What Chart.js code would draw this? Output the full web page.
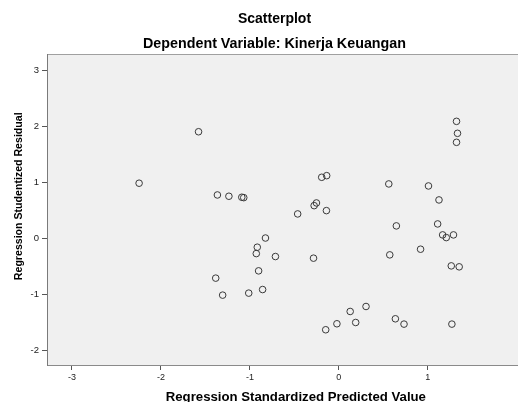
<!DOCTYPE html>
<html>
<head>
<meta charset="utf-8">
<script src="https://cdn.jsdelivr.net/npm/chart.js@4"></script>
<style>
  html, body { margin: 0; padding: 0; background: #ffffff; overflow: hidden; width: 518px; height: 402px; }
  #wrap { width: 549px; height: 402px; }
</style>
</head>
<body>
<div id="wrap"><canvas id="c" width="549" height="402"></canvas></div>
<script>
// Regression Standardized Predicted Value (x)
const predicted = [
  -2.245, -1.577, -1.365, -1.236, -1.091, -1.069, -0.825, -0.917, -0.928, -0.713,
  -0.902, -1.384, -1.306, -1.013, -0.857, -0.193, -0.137, 0.561, -0.252, -0.278,
  -0.140, -0.463, 0.646, -0.285, 0.572, 1.322, 1.333, 1.322, 1.007, 1.125,
  1.110, 1.166, 1.207, 1.288, 0.918, 1.263, 1.352, 1.270, -0.148, -0.022,
  0.127, 0.189, 0.305, 0.635, 0.732
];
// Regression Studentized Residual (y)
const residual = [
  0.990, 1.910, 0.780, 0.757, 0.739, 0.732, 0.010, -0.154, -0.268, -0.321,
  -0.577, -0.707, -1.011, -0.975, -0.911, 1.096, 1.125, 0.977, 0.637, 0.589,
  0.500, 0.441, 0.227, -0.350, -0.291, 2.096, 1.882, 1.721, 0.941, 0.691,
  0.262, 0.066, 0.018, 0.066, -0.190, -0.488, -0.505, -1.529, -1.630, -1.523,
  -1.303, -1.500, -1.214, -1.434, -1.529
];
const xTicks = [-3, -2, -1, 0, 1];
const yTicks = [-2, -1, 0, 1, 2, 3];
const chartTitle = 'Scatterplot';
const chartSubtitle = 'Dependent Variable: Kinerja Keuangan';
const xTitle = 'Regression Standardized Predicted Value';
const yTitle = 'Regression Studentized Residual';

const points = predicted.map((x, i) => ({ x: x, y: residual[i] }));

const plotBg = {
  id: 'plotBg',
  beforeDraw(chart) {
    const { ctx, chartArea: a } = chart;
    ctx.save();
    ctx.fillStyle = '#f0f0f0';
    ctx.fillRect(a.left, a.top, a.right - a.left, a.bottom - a.top);
    ctx.strokeStyle = '#a0a0a0';
    ctx.lineWidth = 1;
    ctx.beginPath();
    ctx.moveTo(a.left, a.top + 0.5);
    ctx.lineTo(a.right, a.top + 0.5);
    ctx.stroke();
    ctx.restore();
  }
};

new Chart(document.getElementById('c'), {
  type: 'scatter',
  data: {
    datasets: [{
      data: points,
      pointStyle: 'circle',
      pointRadius: 3.3,
      pointHoverRadius: 3.3,
      pointBorderWidth: 1,
      borderColor: '#3a3a3a',
      backgroundColor: 'rgba(0,0,0,0)'
    }]
  },
  plugins: [plotBg],
  options: {
    responsive: false,
    animation: false,
    devicePixelRatio: 1,
    layout: { padding: 0 },
    plugins: {
      legend: { display: false },
      tooltip: { enabled: false },
      title: {
        display: true,
        text: chartTitle,
        color: '#000',
        font: { family: 'Liberation Sans, Arial, sans-serif', size: 14, weight: 'bold', lineHeight: '14px' },
        padding: { top: 12, bottom: 0 }
      },
      subtitle: {
        display: true,
        text: chartSubtitle,
        color: '#000',
        font: { family: 'Liberation Sans, Arial, sans-serif', size: 14.3, weight: 'bold', lineHeight: '14px' },
        padding: { top: 11, bottom: 3 }
      }
    },
    scales: {
      x: {
        type: 'linear',
        min: -3.28,
        max: 2.313,
        afterBuildTicks(scale) { scale.ticks = xTicks.map(v => ({ value: v })); },
        afterFit(scale) { scale.height = 37; },
        ticks: {
          color: '#222',
          font: { family: 'Liberation Sans, Arial, sans-serif', size: 9 },
          padding: 2,
          maxRotation: 0,
          callback: v => String(v)
        },
        grid: { drawOnChartArea: false, drawTicks: true, tickLength: 5, color: '#555' },
        border: { display: true, color: '#8a8a8a', width: 1 },
        title: {
          display: true,
          text: xTitle,
          color: '#000',
          font: { family: 'Liberation Sans, Arial, sans-serif', size: 13.2, weight: 'bold', lineHeight: '10px' },
          padding: { top: 0, bottom: 0 }
        }
      },
      y: {
        type: 'linear',
        min: -2.26,
        max: 3.30,
        afterBuildTicks(scale) { scale.ticks = yTicks.map(v => ({ value: v })); },
        afterFit(scale) { scale.width = 47; },
        ticks: {
          color: '#222',
          font: { family: 'Liberation Sans, Arial, sans-serif', size: 9.5 },
          padding: 3,
          callback: v => String(v)
        },
        grid: { drawOnChartArea: false, drawTicks: true, tickLength: 5, color: '#555' },
        border: { display: true, color: '#7a7a7a', width: 1 },
        title: {
          display: true,
          text: '         ' + yTitle,
          color: '#000',
          font: { family: 'Liberation Sans, Arial, sans-serif', size: 10.6, weight: 'bold', lineHeight: '12px' },
          padding: { top: 13, bottom: 0 }
        }
      }
    }
  }
});
</script>
</body>
</html>
